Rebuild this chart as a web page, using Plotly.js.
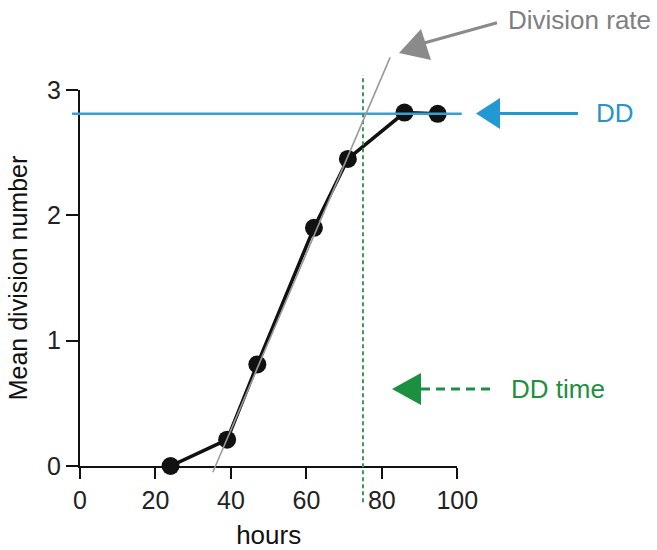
<!DOCTYPE html>
<html>
<head>
<meta charset="utf-8">
<script src="https://cdn.plot.ly/plotly-3.0.1.min.js"></script>
<style>html,body{margin:0;padding:0;background:#fff;}#chart{width:657px;height:550px;}</style>
</head>
<body>
<div id="chart"></div>
<script>
// ---- data ----
var hours = [24, 39, 47, 62, 71, 86, 94.8];
var meanDivision = [0, 0.21, 0.81, 1.90, 2.45, 2.82, 2.81];
var xTickVals = [0, 20, 40, 60, 80, 100];
var yTickVals = [0, 1, 2, 3];
var ddValue = 2.81;          // DD level
var ddLineX = [-2.1, 101.2]; // extent of DD line (hours)
var ddTime = 75;             // DD time (hours)
var ddTimeLineY = [-0.29, 3.12];
var rateLineX = [35.2, 82.2]; // division-rate fit line
var rateLineY = [-0.05, 3.26];
var xAxisExtX = [-3.4, 0];

// ---- geometry (pixels) ----
var W = 657, H = 550;
var pxL = 80, pxR = 457.3, pxT = 90, pxB = 466;
var xr = [0, 100], yr = [0, 3];
var sx = (pxR - pxL) / (xr[1] - xr[0]);
var sy = (pxB - pxT) / (yr[1] - yr[0]);
var x2range = [xr[0] - pxL / sx, xr[0] + (W - pxL) / sx];
var y2range = [yr[0] - (H - pxB) / sy, yr[0] + pxB / sy];
function px(x) { return x / W; }
function py(y) { return 1 - y / H; }
function tri(pts) {
  return 'M' + pts.map(function (p) { return px(p[0]) + ',' + py(p[1]); }).join('L') + 'Z';
}

var FONT = 'Liberation Sans, Arial, sans-serif';
var grey = '#8a8a8a', blue = '#2298d4', green = '#1b9140';

var traces = [
  { x: ddLineX, y: [ddValue, ddValue], xaxis: 'x2', yaxis: 'y2', mode: 'lines',
    line: { color: '#3a9fd4', width: 2.5 }, hoverinfo: 'skip', showlegend: false },
  { x: [ddTime, ddTime], y: ddTimeLineY, xaxis: 'x2', yaxis: 'y2', mode: 'lines',
    line: { color: '#3f9a55', width: 2, dash: '4px,3px' }, hoverinfo: 'skip', showlegend: false },
  { x: xAxisExtX, y: [0, 0], xaxis: 'x2', yaxis: 'y2', mode: 'lines',
    line: { color: '#111', width: 2 }, hoverinfo: 'skip', showlegend: false },
  { x: hours, y: meanDivision, xaxis: 'x', yaxis: 'y', mode: 'lines+markers',
    line: { color: '#111', width: 3.5 }, marker: { color: '#111', size: 18 },
    cliponaxis: false, showlegend: false },
  { x: rateLineX, y: rateLineY, xaxis: 'x2', yaxis: 'y2', mode: 'lines',
    line: { color: '#9a9a9a', width: 1.6 }, hoverinfo: 'skip', showlegend: false }
];

var shapes = [
  // grey arrow
  { type: 'line', xref: 'paper', yref: 'paper', x0: px(425), y0: py(42.7), x1: px(497), y1: py(22.7),
    line: { color: grey, width: 3 } },
  { type: 'path', xref: 'paper', yref: 'paper', path: tri([[399, 53], [421, 29], [431, 60]]),
    fillcolor: grey, line: { width: 0 } },
  // blue arrow
  { type: 'line', xref: 'paper', yref: 'paper', x0: px(498), y0: py(113.5), x1: px(578), y1: py(113.5),
    line: { color: blue, width: 3 } },
  { type: 'path', xref: 'paper', yref: 'paper', path: tri([[476, 113.5], [500, 98], [500, 129]]),
    fillcolor: blue, line: { width: 0 } },
  // green arrow
  { type: 'line', xref: 'paper', yref: 'paper', x0: px(421), y0: py(389), x1: px(495), y1: py(389),
    line: { color: green, width: 3, dash: '9px,6px' } },
  { type: 'path', xref: 'paper', yref: 'paper', path: tri([[392, 389], [421, 373], [421, 405]]),
    fillcolor: green, line: { width: 0 } }
];

var annotations = [
  { xref: 'paper', yref: 'paper', x: px(506), y: py(20), xanchor: 'left', yanchor: 'middle',
    text: 'Division rate', showarrow: false, font: { family: FONT, size: 26, color: '#7f7f7f' } },
  { xref: 'paper', yref: 'paper', x: px(594), y: py(113), xanchor: 'left', yanchor: 'middle',
    text: 'DD', showarrow: false, font: { family: FONT, size: 26, color: '#2a93cc' } },
  { xref: 'paper', yref: 'paper', x: px(509), y: py(389), xanchor: 'left', yanchor: 'middle',
    text: 'DD time', showarrow: false, font: { family: FONT, size: 26, color: '#1f8f40' } }
];

var layout = {
  width: W, height: H,
  margin: { l: 0, r: 0, t: 0, b: 0, pad: 0 },
  paper_bgcolor: '#fff', plot_bgcolor: 'rgba(0,0,0,0)',
  font: { family: FONT, color: '#111' },
  showlegend: false,
  xaxis: {
    domain: [px(pxL), px(pxR)], range: xr, tickvals: xTickVals, ticktext: xTickVals.map(String),
    ticks: 'outside', ticklen: 11, tickwidth: 2, tickcolor: '#111',
    showline: true, linewidth: 2, linecolor: '#111', showgrid: false, zeroline: false,
    tickfont: { family: FONT, size: 25, color: '#222' },
    title: { text: 'hours', font: { family: FONT, size: 26, color: '#111' }, standoff: 16 },
    fixedrange: true, anchor: 'y'
  },
  yaxis: {
    domain: [py(pxB), py(pxT)], range: yr, tickvals: yTickVals, ticktext: yTickVals.map(String),
    ticks: 'outside', ticklen: 12, tickwidth: 2, tickcolor: '#111',
    showline: true, linewidth: 2, linecolor: '#111', showgrid: false, zeroline: false,
    tickfont: { family: FONT, size: 25, color: '#222' },
    title: { text: 'Mean division number', font: { family: FONT, size: 25, color: '#111' }, standoff: 12 },
    fixedrange: true, anchor: 'x'
  },
  xaxis2: { domain: [0, 1], range: x2range, visible: false, fixedrange: true, anchor: 'y2' },
  yaxis2: { domain: [0, 1], range: y2range, visible: false, fixedrange: true, anchor: 'x2' },
  shapes: shapes,
  annotations: annotations
};

Plotly.newPlot('chart', traces, layout, { displayModeBar: false, staticPlot: true });
</script>
</body>
</html>
